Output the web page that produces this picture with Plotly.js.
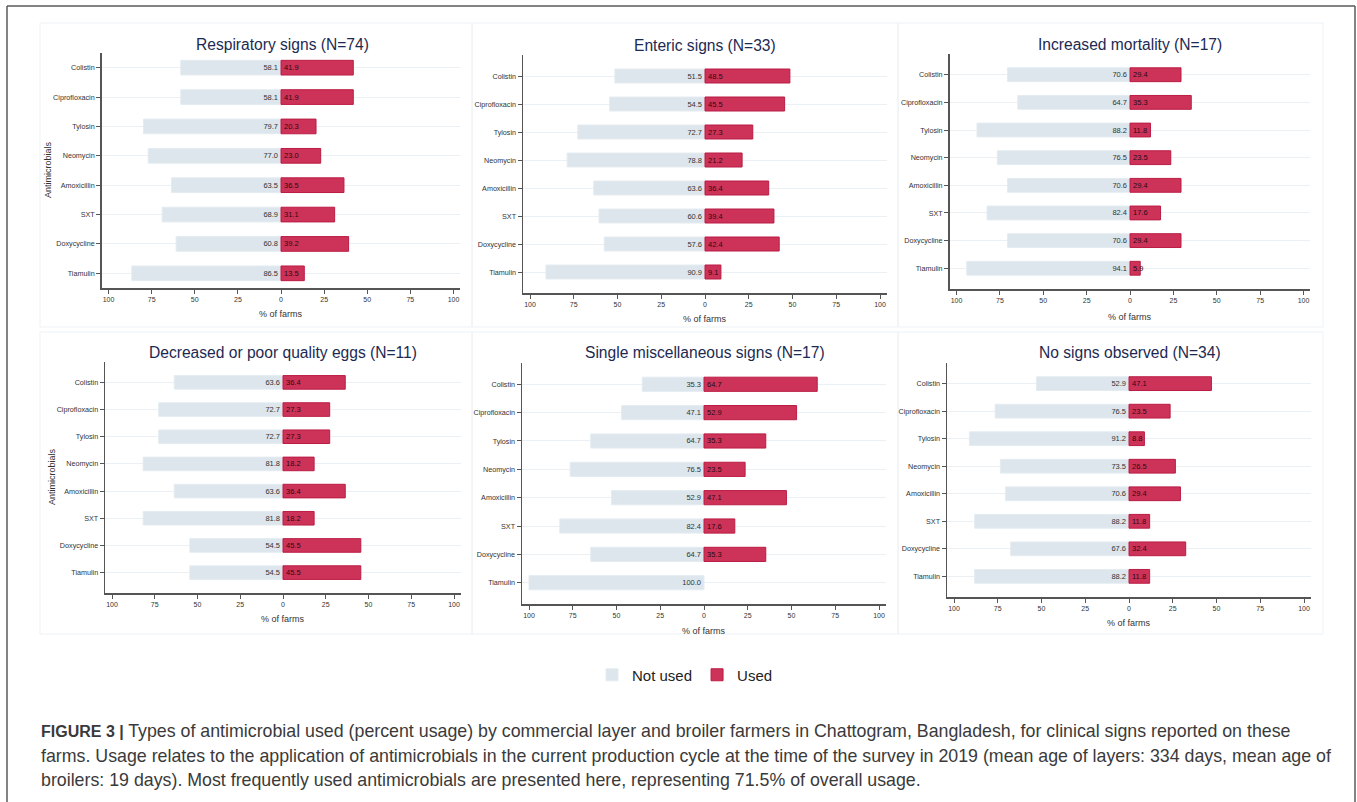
<!DOCTYPE html>
<html>
<head>
<meta charset="utf-8">
<script src="https://cdn.plot.ly/plotly-3.0.1.min.js"></script>
<style>
  html, body { margin: 0; padding: 0; background: #ffffff; }
  #chart { width: 1357px; height: 802px; }
</style>
</head>
<body>
<div id="chart"></div>
<script>
// ---------------- DATA ----------------
const categories = ['Colistin', 'Ciprofloxacin', 'Tylosin', 'Neomycin', 'Amoxicillin', 'SXT', 'Doxycycline', 'Tiamulin'];
const panelTitles = [
  'Respiratory signs (N=74)',
  'Enteric signs (N=33)',
  'Increased mortality (N=17)',
  'Decreased or poor quality eggs (N=11)',
  'Single miscellaneous signs (N=17)',
  'No signs observed (N=34)'
];
const respiratoryNotUsed = [58.1, 58.1, 79.7, 77.0, 63.5, 68.9, 60.8, 86.5];
const respiratoryUsed    = [41.9, 41.9, 20.3, 23.0, 36.5, 31.1, 39.2, 13.5];
const entericNotUsed     = [51.5, 54.5, 72.7, 78.8, 63.6, 60.6, 57.6, 90.9];
const entericUsed        = [48.5, 45.5, 27.3, 21.2, 36.4, 39.4, 42.4, 9.1];
const mortalityNotUsed   = [70.6, 64.7, 88.2, 76.5, 70.6, 82.4, 70.6, 94.1];
const mortalityUsed      = [29.4, 35.3, 11.8, 23.5, 29.4, 17.6, 29.4, 5.9];
const eggsNotUsed        = [63.6, 72.7, 72.7, 81.8, 63.6, 81.8, 54.5, 54.5];
const eggsUsed           = [36.4, 27.3, 27.3, 18.2, 36.4, 18.2, 45.5, 45.5];
const miscNotUsed        = [35.3, 47.1, 64.7, 76.5, 52.9, 82.4, 64.7, 100.0];
const miscUsed           = [64.7, 52.9, 35.3, 23.5, 47.1, 17.6, 35.3, 0];
const noSignsNotUsed     = [52.9, 76.5, 91.2, 73.5, 70.6, 88.2, 67.6, 88.2];
const noSignsUsed        = [47.1, 23.5, 8.8, 26.5, 29.4, 11.8, 32.4, 11.8];
const xTickValues = [-100, -75, -50, -25, 0, 25, 50, 75, 100];
const xTickLabels = ['100', '75', '50', '25', '0', '25', '50', '75', '100'];
const seriesNames = ['Not used', 'Used'];
const yAxisTitle = 'Antimicrobials';
const xAxisTitle = '% of farms';
const captionLabel = 'FIGURE 3 |';
const captionLines = [
  'Types of antimicrobial used (percent usage) by commercial layer and broiler farmers in Chattogram, Bangladesh, for clinical signs reported on these',
  'farms. Usage relates to the application of antimicrobials in the current production cycle at the time of the survey in 2019 (mean age of layers: 334 days, mean age of',
  'broilers: 19 days). Most frequently used antimicrobials are presented here, representing 71.5% of overall usage.'
];

const panelNotUsed = [respiratoryNotUsed, entericNotUsed, mortalityNotUsed, eggsNotUsed, miscNotUsed, noSignsNotUsed];
const panelUsed = [respiratoryUsed, entericUsed, mortalityUsed, eggsUsed, miscUsed, noSignsUsed];

// ---------------- GEOMETRY / STYLE ----------------
const W = 1357, H = 802;
const px = v => v / W;
const py = v => 1 - v / H;
const XR = 104;
const geo = [
  {zero: 281,  s: 1.725, top: 53,  bot: 288, pad: 0.5,  tx: 282,  ty: 44,  xt: 314, ytx: 48, yty: 170, box: [40, 23, 472, 327]},
  {zero: 705,  s: 1.75,  top: 55,  bot: 293, pad: 0.75, tx: 705,  ty: 45,  xt: 319, box: [472, 23, 898, 327]},
  {zero: 1130, s: 1.735, top: 54,  bot: 289, pad: 0.75, tx: 1130, ty: 44,  xt: 317, box: [898, 23, 1323, 327]},
  {zero: 283,  s: 1.71,  top: 362, bot: 593, pad: 0.75, tx: 283,  ty: 352, xt: 619, ytx: 52, yty: 477, box: [40, 332, 472, 634]},
  {zero: 704,  s: 1.75,  top: 363, bot: 604, pad: 0.75, tx: 705,  ty: 353, xt: 631, box: [472, 332, 898, 634]},
  {zero: 1129, s: 1.75,  top: 363, bot: 597, pad: 0.75, tx: 1130, ty: 353, xt: 623, box: [898, 332, 1323, 634]}
];

const FONT = 'Liberation Sans, Arial, Helvetica, sans-serif';
const notUsedFill = '#dde6ec', notUsedLine = '#e4ecf1';
const usedFill = '#cd3358', usedLine = '#bb1c44';
const axisColor = '#555555';

const traces = [];
const layout = {
  width: W, height: H,
  margin: {l: 0, r: 0, t: 0, b: 0},
  paper_bgcolor: '#ffffff',
  plot_bgcolor: 'rgba(0,0,0,0)',
  barmode: 'relative',
  showlegend: true,
  hovermode: false,
  legend: {
    orientation: 'h', x: px(592), xanchor: 'left', y: py(675), yanchor: 'middle',
    font: {family: FONT, size: 15, color: '#222'}, traceorder: 'normal',
    bgcolor: 'rgba(0,0,0,0)'
  },
  annotations: [],
  shapes: []
};

geo.forEach((g, i) => {
  const n = i === 0 ? '' : String(i + 1);
  const xa = 'x' + n, ya = 'y' + n;
  const nu = panelNotUsed[i], us = panelUsed[i];
  traces.push({
    type: 'bar', orientation: 'h', name: seriesNames[0],
    y: categories, x: nu.map(v => -v),
    text: nu.map(v => v > 0 ? v.toFixed(1) : ''),
    textposition: 'inside', insidetextanchor: 'start', constraintext: 'none', textangle: 0,
    textfont: {family: FONT, size: 7.5, color: '#333'},
    marker: {color: notUsedFill, line: {color: notUsedLine, width: nu.map(v => v > 0 ? 1 : 0)}},
    width: 0.5, xaxis: xa, yaxis: ya, showlegend: i === 0, legendgroup: 'nu'
  });
  traces.push({
    type: 'bar', orientation: 'h', name: seriesNames[1],
    y: categories, x: us,
    text: us.map(v => v > 0 ? v.toFixed(1) : ''),
    textposition: 'inside', insidetextanchor: 'start', constraintext: 'none', textangle: 0,
    textfont: {family: FONT, size: 7.5, color: '#2a0a12'},
    marker: {color: usedFill, line: {color: usedLine, width: us.map(v => v > 0 ? 1 : 0)}},
    width: 0.5, xaxis: xa, yaxis: ya, showlegend: i === 0, legendgroup: 'u'
  });
  layout['xaxis' + n] = {
    domain: [px(g.zero - XR * g.s), px(g.zero + XR * g.s)],
    range: [-XR, XR], anchor: ya,
    tickmode: 'array', tickvals: xTickValues, ticktext: xTickLabels,
    ticks: 'outside', ticklen: 4, tickcolor: axisColor, tickwidth: 1,
    showline: true, linecolor: axisColor, linewidth: 1.5,
    showgrid: false, zeroline: false,
    tickfont: {family: FONT, size: 7, color: '#333'}
  };
  layout['yaxis' + n] = {
    domain: [py(g.bot), py(g.top)],
    type: 'category', categoryorder: 'array', categoryarray: categories,
    range: [categories.length - 1 + g.pad, -g.pad], anchor: xa,
    ticks: 'outside', ticklen: 4, tickcolor: axisColor, tickwidth: 1,
    showline: true, linecolor: axisColor, linewidth: 1.5,
    showgrid: true, gridcolor: '#eaf0f4', gridwidth: 1, zeroline: false,
    tickfont: {family: FONT, size: 7.2, color: '#333'}
  };
  layout.annotations.push({
    xref: 'paper', yref: 'paper', x: px(g.tx), y: py(g.ty), xanchor: 'center', yanchor: 'middle',
    text: panelTitles[i], showarrow: false, font: {family: FONT, size: 15.6, color: '#1c2a52'}
  });
  layout.annotations.push({
    xref: 'paper', yref: 'paper', x: px(g.zero), y: py(g.xt), xanchor: 'center', yanchor: 'middle',
    text: xAxisTitle, showarrow: false, font: {family: FONT, size: 9, color: '#333'}
  });
  if (g.ytx) {
    layout.annotations.push({
      xref: 'paper', yref: 'paper', x: px(g.ytx), y: py(g.yty), xanchor: 'center', yanchor: 'middle',
      text: yAxisTitle, textangle: -90, showarrow: false, font: {family: FONT, size: 9, color: '#333'}
    });
  }
  layout.shapes.push({
    type: 'rect', xref: 'paper', yref: 'paper',
    x0: px(g.box[0]), x1: px(g.box[2]), y0: py(g.box[3]), y1: py(g.box[1]),
    line: {color: '#edf2f6', width: 1}, layer: 'below'
  });
});

// caption
const capY = [731, 756, 780];
captionLines.forEach((t, k) => {
  const body = '<span style="font-size:17.8px">' + t + '</span>';
  layout.annotations.push({
    xref: 'paper', yref: 'paper', x: px(39), y: py(capY[k]), xanchor: 'left', yanchor: 'middle',
    text: k === 0 ? '<b>' + captionLabel + '</b> ' + body : body,
    showarrow: false, align: 'left', font: {family: FONT, size: 16, color: '#3a3a3a'}
  });
});

// outer frame
layout.shapes.push(
  {type: 'line', xref: 'paper', yref: 'paper', x0: px(7), x1: px(1355), y0: py(6), y1: py(6), line: {color: '#5a5a5a', width: 1.5}},
  {type: 'line', xref: 'paper', yref: 'paper', x0: px(7), x1: px(7), y0: py(6), y1: 0, line: {color: '#5a5a5a', width: 1.5}},
  {type: 'line', xref: 'paper', yref: 'paper', x0: px(1355), x1: px(1355), y0: py(6), y1: 0, line: {color: '#5a5a5a', width: 1.5}}
);

Plotly.newPlot('chart', traces, layout, {displayModeBar: false, staticPlot: true});
</script>
</body>
</html>
